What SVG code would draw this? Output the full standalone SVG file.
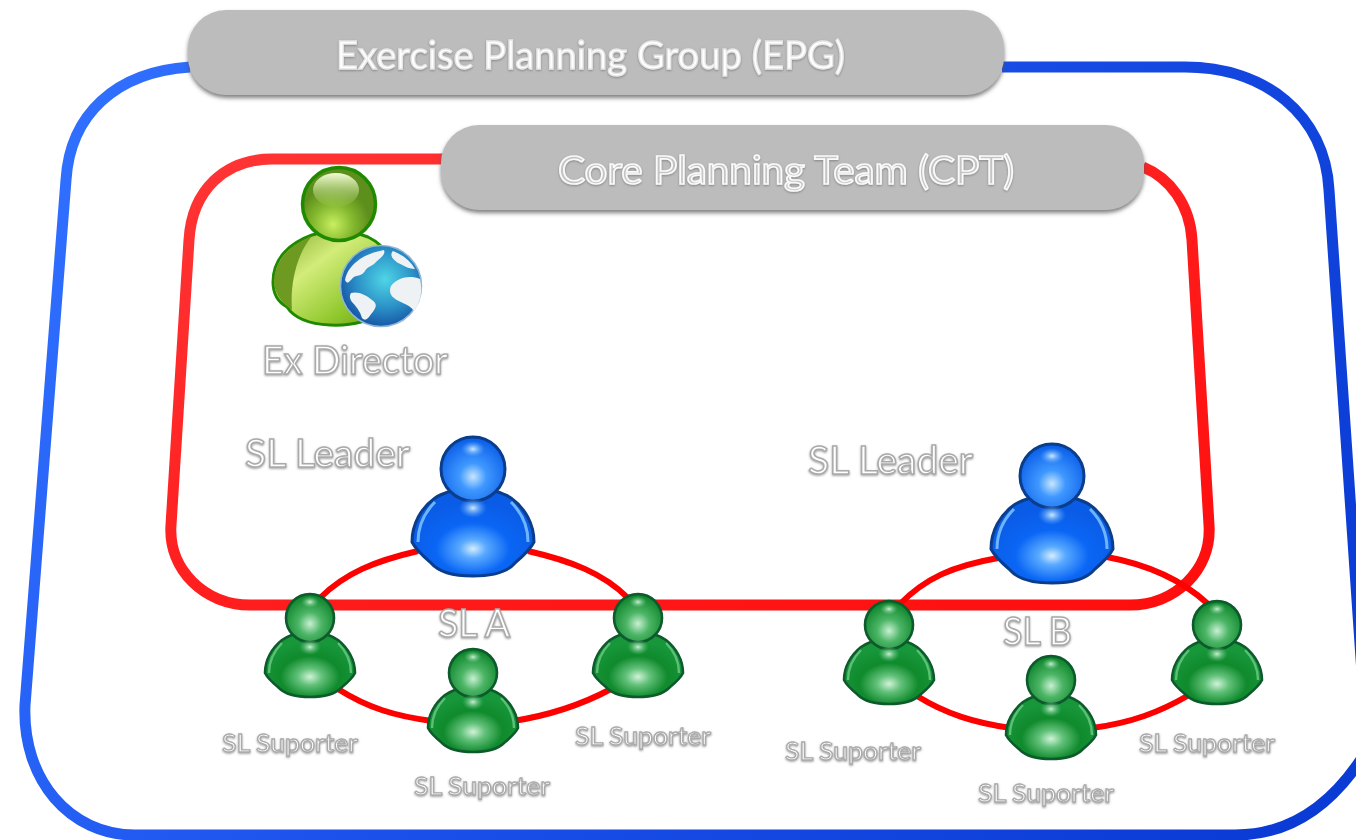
<svg xmlns="http://www.w3.org/2000/svg" xmlns:xlink="http://www.w3.org/1999/xlink" width="1356" height="840" viewBox="0 0 1356 840">
<style>
text{font-family:"Lato","Carlito","Open Sans",sans-serif;fill:#fff;stroke:#aaa;stroke-width:1.5px;text-anchor:start}
.lg{font-size:38px}.sm{font-size:25px;stroke-width:1.3px}
.epgt{stroke:#e6e6e6;fill:#fff;stroke-width:1.3px}
.cptt{fill:#c4c4c4;stroke:#fafafa;stroke-width:1.7px}
.pill{fill:#bcbcbc;filter:url(#ps)}
.link{fill:none;stroke:#f00;stroke-width:6}
</style>
<defs>
<filter id="ps" x="-5%" y="-10%" width="110%" height="125%"><feDropShadow dx="0" dy="3" stdDeviation="2.2" flood-color="#555" flood-opacity=".75"/></filter>
<filter id="ts" x="-5%" y="-15%" width="110%" height="135%"><feDropShadow dx="0" dy="1" stdDeviation="1" flood-color="#666" flood-opacity=".65"/></filter>
<linearGradient id="bf" gradientUnits="userSpaceOnUse" x1="60" y1="100" x2="1300" y2="800"><stop offset="0" stop-color="#3070ff"/><stop offset=".45" stop-color="#1b50ea"/><stop offset="1" stop-color="#0a3bd4"/></linearGradient>
<linearGradient id="rf" x1="0" x2="1" y1="0" y2="1"><stop offset="0" stop-color="#ff3535"/><stop offset=".6" stop-color="#ff1a1a"/><stop offset="1" stop-color="#ff0d0d"/></linearGradient>
<radialGradient id="bb" cx=".5" cy=".68" r=".55"><stop offset="0" stop-color="#d5edff"/><stop offset=".2" stop-color="#58a9ff"/><stop offset=".55" stop-color="#0a66f5"/><stop offset="1" stop-color="#0a5ce6"/></radialGradient>
<radialGradient id="bh" cx=".5" cy=".62" r=".6"><stop offset="0" stop-color="#c7e6ff"/><stop offset=".35" stop-color="#3f98ff"/><stop offset="1" stop-color="#0a5ee8"/></radialGradient>
<radialGradient id="bt" cx=".5" cy=".5" r=".5"><stop offset="0" stop-color="#cfeaff"/><stop offset="1" stop-color="#5aa9ff" stop-opacity="0"/></radialGradient>
<radialGradient id="gb" cx=".5" cy=".68" r=".55"><stop offset="0" stop-color="#d0f3d8"/><stop offset=".25" stop-color="#60c078"/><stop offset=".6" stop-color="#0f8a2c"/><stop offset="1" stop-color="#17963a"/></radialGradient>
<radialGradient id="gh" cx=".5" cy=".62" r=".6"><stop offset="0" stop-color="#c8f0d2"/><stop offset=".4" stop-color="#4cb566"/><stop offset="1" stop-color="#0c8429"/></radialGradient>
<radialGradient id="gt" cx=".5" cy=".5" r=".5"><stop offset="0" stop-color="#c9f0d3"/><stop offset="1" stop-color="#5cc076" stop-opacity="0"/></radialGradient>
<radialGradient id="dh" cx=".42" cy=".78" r=".5"><stop offset="0" stop-color="#c8ef60"/><stop offset=".55" stop-color="#84b82e"/><stop offset="1" stop-color="#5d8f1c"/></radialGradient>
<linearGradient id="dt" x1="0" x2="0" y1="0" y2="1"><stop offset="0" stop-color="#f4fbd8"/><stop offset="1" stop-color="#b7d773" stop-opacity=".1"/></linearGradient>
<linearGradient id="db" x1="0" x2="1" y1="0" y2="1"><stop offset="0" stop-color="#7fa92a"/><stop offset=".35" stop-color="#d3ec7a"/><stop offset=".7" stop-color="#92c92f"/><stop offset="1" stop-color="#5e9a14"/></linearGradient>
<radialGradient id="gl" cx=".55" cy=".42" r=".65"><stop offset="0" stop-color="#4fd5e6"/><stop offset=".55" stop-color="#2a8fc6"/><stop offset="1" stop-color="#12479c"/></radialGradient>
<g id="pb">
<path d="M-61 106C-61 88-52 72-38 62-34 59-28 57-22 55L22 55C28 57 34 59 38 62 52 72 61 88 61 106 57 114 50 120 42 127 36 134 24 140 0 140-24 140-36 134-42 127-50 120-57 114-61 106Z" fill="url(#bb)" stroke="#0a3d8c" stroke-width="3"/>
<path d="M-38 66C-50 78-55 92-55 106M38 66C50 78 55 92 55 106" fill="none" stroke="#6db5ff" stroke-width="3"/>
<circle cx="0" cy="33" r="32" fill="url(#bh)" stroke="#0a3d8c" stroke-width="3"/>
<ellipse cx="0" cy="72" rx="14" ry="10" fill="url(#bt)"/>
<ellipse cx="0" cy="13" rx="12" ry="8" fill="url(#bt)"/>
</g>
<g id="pg">
<path d="M-45 80C-45 67-38 55-28 47-25 45-21 43-16 41L16 41C21 43 25 45 28 47 38 55 45 67 45 80 42 86 37 90 31 95 26 100 18 104 0 104-18 104-26 100-31 95-37 90-42 86-45 80Z" fill="url(#gb)" stroke="#0d5a2c" stroke-width="2.6"/>
<path d="M-28 50C-37 59-41 69-41 80M28 50C37 59 41 69 41 80" fill="none" stroke="#5cc076" stroke-width="2.4"/>
<circle cx="0" cy="25" r="24" fill="url(#gh)" stroke="#0d5a2c" stroke-width="2.6"/>
<ellipse cx="0" cy="54" rx="11" ry="8" fill="url(#gt)"/>
<ellipse cx="0" cy="9" rx="9" ry="6" fill="url(#gt)"/>
</g>
</defs>
<rect width="1356" height="840" fill="#fff"/>
<g id="epg-frame"><path d="M190 67C115 72 70 115 66 180L25 705C22 780 70 835 135 835H1235C1290 835 1335 805 1370 745M1002 67H1185C1265 67 1325 115 1329 190L1370 790" fill="none" stroke="url(#bf)" stroke-width="11"/></g>
<g id="cpt-frame"><path d="M445 159H272C225 159 192 190 189 240L171 525C168 570 205 605 250 605H1130C1175 605 1212 570 1209 525L1192 240C1190 205 1170 178 1143 167" fill="none" stroke="url(#rf)" stroke-width="11"/></g>
<g id="connectors">
<path class="link" d="M418 551C375 561 345 573 320 598"/>
<path class="link" d="M528 551C571 561 603 573 628 598"/>
<path class="link" d="M338 689C368 708 395 716 432 721"/>
<path class="link" d="M513 721C552 715 581 705 611 689"/>
<path class="link" d="M998 558C953 566 925 578 899 605"/>
<path class="link" d="M1107 557C1150 565 1182 580 1208 604"/>
<path class="link" d="M917 696C946 714 975 723 1011 728"/>
<path class="link" d="M1092 728C1131 723 1160 712 1189 695"/>
</g>
<g id="epg"><rect class="pill" x="188" y="10" width="816" height="85" rx="38"/><text class="lg epgt" x="336" y="69" textLength="509" lengthAdjust="spacingAndGlyphs" filter="url(#ts)">Exercise Planning Group (EPG)</text></g>
<g id="cpt"><rect class="pill" x="441" y="125" width="703" height="85" rx="38"/><text class="lg cptt" x="558" y="184" textLength="456" lengthAdjust="spacingAndGlyphs" filter="url(#ts)">Core Planning Team (CPT)</text></g>
<g id="ex-director">
<path d="M273 282C273 258 290 243 312 235 330 230 350 230 368 237 395 250 400 280 390 305 375 322 350 326 330 325 310 324 294 318 287 307 278 302 273 293 273 282Z" fill="url(#db)" stroke="#1f8a00" stroke-width="3"/>
<path d="M312 236C296 255 290 285 292 310 283 304 275 295 274 283 274 260 291 244 312 236Z" fill="#6f9a22"/>
<circle cx="339" cy="204" r="36.5" fill="url(#dh)" stroke="#1f8a00" stroke-width="3.5"/>
<ellipse cx="336" cy="190" rx="23" ry="17" fill="url(#dt)"/>
<circle cx="381" cy="286" r="40.5" fill="url(#gl)" stroke="#8fb5d8" stroke-width="1.5"/>
<path d="M345 280C347 270 353 264 360 259 366 255 374 252 384 250 386 255 380 258 376 262 373 266 368 266 365 271 362 276 358 275 354 277 350 280 348 286 345 280ZM393 251C401 254 410 260 415 269 408 269 403 265 398 263 393 260 389 255 393 251ZM391 286C398 277 410 275 420 279 423 292 420 303 414 311 408 303 400 303 394 298 390 295 389 290 391 286ZM351 293C358 291 366 295 372 300 378 304 376 308 372 313 368 318 366 322 362 318 360 311 356 306 352 302 350 299 349 296 351 293Z" fill="#eef2f4"/>
<text class="lg" x="262" y="374" textLength="186" lengthAdjust="spacingAndGlyphs" filter="url(#ts)">Ex Director</text>
</g>
<g id="sl-a">
<text class="lg" x="438" y="637" textLength="72" lengthAdjust="spacingAndGlyphs" filter="url(#ts)">SL A</text>
<text class="lg" x="245" y="467" textLength="165" lengthAdjust="spacingAndGlyphs" filter="url(#ts)">SL Leader</text>
</g>
<g id="sl-a-leader"><use href="#pb" x="473" y="436"/></g>
<g id="sl-a-sup1"><use href="#pg" x="310" y="593"/><text class="sm" x="222" y="752" textLength="136" lengthAdjust="spacingAndGlyphs" filter="url(#ts)">SL Suporter</text></g>
<g id="sl-a-sup2"><use href="#pg" x="473" y="648"/><text class="sm" x="414" y="795" textLength="136" lengthAdjust="spacingAndGlyphs" filter="url(#ts)">SL Suporter</text></g>
<g id="sl-a-sup3"><use href="#pg" x="638" y="593"/><text class="sm" x="575" y="745" textLength="136" lengthAdjust="spacingAndGlyphs" filter="url(#ts)">SL Suporter</text></g>
<g id="sl-b">
<text class="lg" x="1003" y="645" textLength="69" lengthAdjust="spacingAndGlyphs" filter="url(#ts)">SL B</text>
<text class="lg" x="808" y="474" textLength="165" lengthAdjust="spacingAndGlyphs" filter="url(#ts)">SL Leader</text>
</g>
<g id="sl-b-leader"><use href="#pb" x="1052" y="443"/></g>
<g id="sl-b-sup1"><use href="#pg" x="889" y="600"/><text class="sm" x="785" y="760" textLength="136" lengthAdjust="spacingAndGlyphs" filter="url(#ts)">SL Suporter</text></g>
<g id="sl-b-sup2"><use href="#pg" x="1051" y="655"/><text class="sm" x="978" y="802" textLength="136" lengthAdjust="spacingAndGlyphs" filter="url(#ts)">SL Suporter</text></g>
<g id="sl-b-sup3"><use href="#pg" x="1217" y="600"/><text class="sm" x="1139" y="752" textLength="136" lengthAdjust="spacingAndGlyphs" filter="url(#ts)">SL Suporter</text></g>
</svg>
